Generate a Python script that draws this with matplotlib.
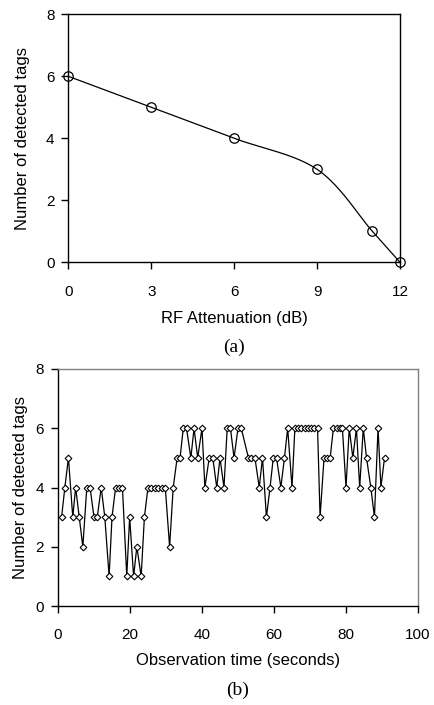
import numpy as np
import matplotlib.pyplot as plt

# panel (a): tags seen vs RF attenuation
atten = [0, 3, 6, 9, 11, 12]
tags_a = [6, 5, 4, 3, 1, 0]

# panel (b): tags seen over time (sample times)
obs_time = [1.0, 1.9, 2.9, 4.1, 4.9, 5.9, 6.9, 8.0, 8.9, 10.0, 10.9, 12.0, 13.0,
            14.2, 15.0, 16.0, 17.0, 17.9, 19.1, 19.9, 21.0, 21.9, 23.1,
            24.0, 25.0, 25.9, 26.9, 27.8, 28.8, 29.8, 31.0, 32.0,
            33.1, 33.9, 34.8, 35.7, 36.9, 37.8, 38.8, 40.0, 40.8, 42.0, 43.0, 44.1, 45.0, 46.1,
            47.0, 47.9, 48.9, 50.0, 50.9, 52.9, 53.7, 54.7, 55.9, 56.8, 57.9, 58.9, 59.8, 60.7,
            61.9, 62.9, 63.8, 65.0, 65.8, 66.7, 67.6, 68.5, 69.4, 70.3, 71.2, 72.1,
            72.8, 73.9, 74.7, 75.6, 76.5, 77.4, 78.3, 79.0,
            80.0, 80.9, 81.9, 82.9, 83.8, 84.8, 85.7, 86.9, 87.9, 88.9, 89.7, 90.7]
tags_b = [3, 4, 5, 3, 4, 3, 2, 4, 4, 3, 3, 4, 3,
          1, 3, 4, 4, 4, 1, 3, 1, 2, 1,
          3, 4, 4, 4, 4, 4, 4, 2, 4,
          5, 5, 6, 6, 5, 6, 5, 6, 4, 5, 5, 4, 5, 4,
          6, 6, 5, 6, 6, 5, 5, 5, 4, 5, 3, 4, 5, 5,
          4, 5, 6, 4, 6, 6, 6, 6, 6, 6, 6, 6,
          3, 5, 5, 5, 6, 6, 6, 6,
          4, 6, 5, 6, 4, 6, 5, 4, 3, 6, 4, 5]

x_ticks_a = [0, 3, 6, 9, 12]
x_ticks_b = [0, 20, 40, 60, 80, 100]
y_ticks = [0, 2, 4, 6, 8]


def smooth(xs, ys, n=40):
    # excel style smoothed line (bezier, tangents from neighbours / 6)
    p = np.column_stack([xs, ys]).astype(float)
    out = []
    for i in range(len(p) - 1):
        p0 = p[i - 1] if i > 0 else p[i]
        p3 = p[i + 2] if i + 2 < len(p) else p[i + 1]
        c1 = p[i] + (p[i + 1] - p0) / 6.0
        c2 = p[i + 1] - (p3 - p[i]) / 6.0
        t = np.linspace(0, 1, n)[:, None]
        seg = ((1 - t) ** 3) * p[i] + 3 * ((1 - t) ** 2) * t * c1 + 3 * (1 - t) * t ** 2 * c2 + t ** 3 * p[i + 1]
        out.append(seg)
    out = np.vstack(out)
    return out[:, 0], out[:, 1]


plt.rcParams['font.family'] = ['Liberation Sans', 'DejaVu Sans']
W, H = 434, 705
fig = plt.figure(figsize=(W / 100.0, H / 100.0), dpi=100)

def style(ax, col_tr):
    for s in ['left', 'bottom']:
        ax.spines[s].set_color('black')
        ax.spines[s].set_linewidth(1.0)
    for s in ['top', 'right']:
        ax.spines[s].set_color(col_tr)
        ax.spines[s].set_linewidth(1.0)
    ax.tick_params(direction='out', length=5, width=1, labelsize=11)
    ax.tick_params(axis='x', pad=11)
    ax.tick_params(axis='y', pad=5)

def place_labels(ax, left, bottom, h_px, w_px, xlab_y, ylab_x):
    ax.xaxis.set_label_coords(0.5, -(xlab_y - bottom) / h_px)
    ax.xaxis.label.set_va('center')
    ax.yaxis.set_label_coords(-(left - ylab_x) / w_px, 0.5)
    ax.yaxis.label.set_va('center')

# (a)
a_l, a_r, a_t, a_b = 68.3, 400.0, 14.3, 262.3
ax1 = fig.add_axes([a_l / W, 1 - a_b / H, (a_r - a_l) / W, (a_b - a_t) / H])
sx, sy = smooth(atten, tags_a)
ax1.plot(sx, sy, color='black', lw=0.9, clip_on=False)
ax1.plot(atten, tags_a, 'o', ms=6.8, mfc='none', mec='black', mew=0.9, clip_on=False)
ax1.set_xlim(0, 12)
ax1.set_ylim(0, 8)
ax1.set_xticks(x_ticks_a)
ax1.set_yticks(y_ticks)
ax1.set_xlabel('RF Attenuation (dB)', fontsize=12)
ax1.set_ylabel('Number of detected tags', fontsize=12)
style(ax1, 'black')
place_labels(ax1, a_l, a_b, a_b - a_t, a_r - a_l, 318, 23)
fig.text(234 / W, 1 - 347 / H, '(a)', ha='center', va='center', fontsize=14, family='Liberation Serif')

# (b)
b_l, b_r, b_t, b_b = 58.0, 418.0, 369.0, 606.0
ax2 = fig.add_axes([b_l / W, 1 - b_b / H, (b_r - b_l) / W, (b_b - b_t) / H])
ax2.plot(obs_time, tags_b, '-', color='black', lw=0.9, marker='D', ms=3.4,
         mfc='white', mec='black', mew=0.8)
ax2.set_xlim(0, 100)
ax2.set_ylim(0, 8)
ax2.set_xticks(x_ticks_b)
ax2.set_yticks(y_ticks)
ax2.set_xlabel('Observation time (seconds)', fontsize=12)
ax2.set_ylabel('Number of detected tags', fontsize=12)
style(ax2, '#808080')
place_labels(ax2, b_l, b_b, b_b - b_t, b_r - b_l, 660, 21)
fig.text(238 / W, 1 - 690 / H, '(b)', ha='center', va='center', fontsize=14, family='Liberation Serif')

fig.savefig('out.png', dpi=100)
